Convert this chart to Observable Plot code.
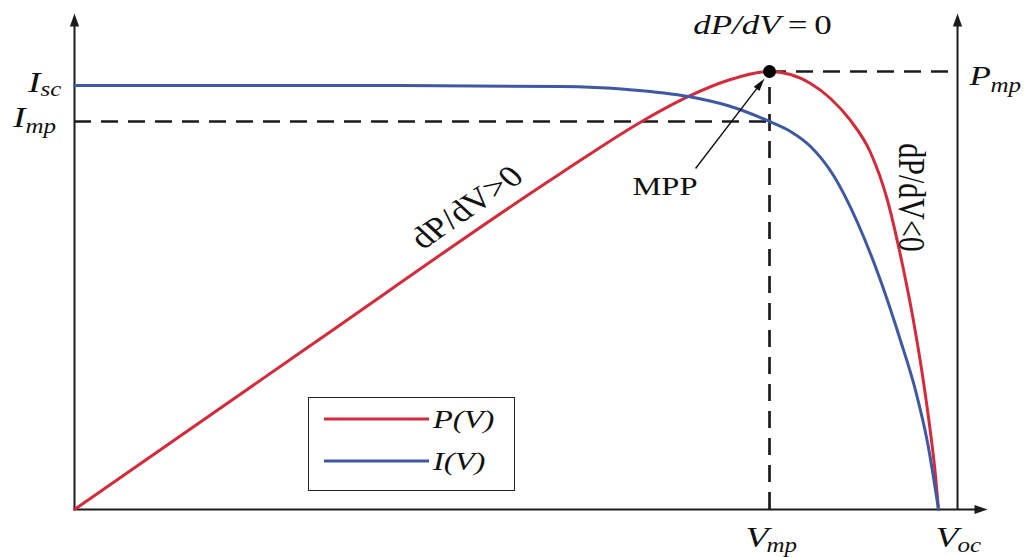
<!DOCTYPE html>
<html>
<head>
<meta charset="utf-8">
<script src="https://cdn.jsdelivr.net/npm/d3@7"></script>
<script src="https://cdn.jsdelivr.net/npm/@observablehq/plot@0.6"></script>
<style>
  body { margin: 0; background: #fff; }
  #chart { position: relative; width: 1027px; height: 557px; }
  #legend {
    position: absolute; left: 308px; top: 397px; width: 207px; height: 94px;
    box-sizing: border-box; border: 1.6px solid #222; background: #fff;
  }
</style>
</head>
<body>
<div id="chart"><div id="legend"></div></div>
<script>
// PV module characteristic: voltage normalised to Voc, current to Isc,
// power drawn on the same vertical scale.
const Voc = 1.0, Vmp = 0.8044;
const Isc = 1.0, Imp = 0.9151, Pmp = 1.0330;
const xAxisEnd = 1.0567, yAxisEnd = 1.1698, pAxisX = 1.0220;

// P(V) curve
const powerV = [0, 0.2731, 0.5625, 0.6586, 0.7106, 0.7558, 0.8044, 0.8287, 0.8519,
                0.8750, 0.8981, 0.9213, 0.9410, 0.9560, 0.9699, 0.9815, 0.9907, 0.9965, 1.0];
const powerP = [0, 0.3868, 0.7925, 0.9175, 0.9741, 1.0118, 1.0330, 1.0259, 1.0047,
                0.9693, 0.9175, 0.8420, 0.7288, 0.5991, 0.4575, 0.3160, 0.1816, 0.0802, 0];

// I(V) curve
const currentV = [0, 0.3773, 0.5625, 0.6400, 0.7106, 0.7558, 0.8044, 0.8287, 0.8519, 0.8785,
                  0.9062, 0.9329, 0.9560, 0.9734, 0.9873, 1.0];
const currentI = [1.0, 1.0, 0.9976, 0.9906, 0.9741, 0.9528, 0.9151, 0.8915, 0.8561, 0.7877,
                  0.6769, 0.5401, 0.3986, 0.2807, 0.1580, 0];

const seriesNames = ["P(V)", "I(V)"];
const seriesColors = ["#d42b3b", "#3f58a6"];

// annotation anchors
const mppArrow = {x1: 0.7188, y1: 0.8042, x2: 0.7986, y2: 1.0165};
const mppLabel = {x: 0.6834, y: 0.7618, text: "MPP"};
const slopeLabels = [
  {x: 0.4537, y: 0.7123, text: "dP/dV>0", rotate: -41},
  {x: 0.9676, y: 0.7358, text: "dP/dV<0", rotate: 90}
];

const W = 1027, H = 557;
const M = {left: 74, right: 40, top: 13, bottom: 48};
const kx = (W - M.left - M.right) / xAxisEnd;
const ky = (H - M.top - M.bottom) / yAxisEnd;
const SX = 1.25; // horizontal stretch of the serif lettering
const serif = "'Liberation Serif', 'Times New Roman', serif";
const ink = "#1b1b1b";

const power = powerV.map((v, i) => ({v, y: powerP[i]}));
const current = currentV.map((v, i) => ({v, y: currentI[i]}));

// filled arrow head whose tip sits on the anchor point; angle clockwise from "up"
function head(angleDeg, len = 13, half = 4.6) {
  const a = angleDeg * Math.PI / 180;
  const ux = Math.sin(a), uy = -Math.cos(a);
  const px = Math.cos(a), py = Math.sin(a);
  const bx = -len * ux, by = -len * uy;
  return {
    draw(ctx) {
      ctx.moveTo(0, 0);
      ctx.lineTo(bx + px * half, by + py * half);
      ctx.lineTo(bx - px * half, by - py * half);
      ctx.closePath();
    }
  };
}
const mppAngle = Math.atan2((mppArrow.x2 - mppArrow.x1) * kx, (mppArrow.y2 - mppArrow.y1) * ky) * 180 / Math.PI;

function symLabel(x, y, main, sub, o) {
  return [
    Plot.text([{x, y, t: main}], {
      x: "x", y: "y", text: "t", textAnchor: o.anchor ?? "end", dx: o.dx, dy: o.dy,
      fontSize: o.size ?? 30, fontStyle: "italic", fontFamily: serif, fill: "#111"
    }),
    Plot.text([{x, y, t: sub}], {
      x: "x", y: "y", text: "t", textAnchor: "start", dx: o.sdx, dy: o.sdy,
      fontSize: o.subSize ?? 20, fontStyle: "italic", fontFamily: serif, fill: "#111"
    })
  ];
}

const dash = {stroke: ink, strokeWidth: 2.7, strokeDasharray: "17,10"};
const axis = {stroke: ink, strokeWidth: 2};

const chart = Plot.plot({
  width: W, height: H,
  marginLeft: M.left, marginRight: M.right, marginTop: M.top, marginBottom: M.bottom,
  x: {domain: [0, xAxisEnd], axis: null},
  y: {domain: [0, yAxisEnd], axis: null},
  marks: [
    // guide lines through the maximum power point
    Plot.ruleY([Imp], {x1: 0, x2: Vmp, ...dash}),
    Plot.ruleX([Vmp], {y1: 0, y2: Pmp, ...dash}),
    Plot.ruleY([Pmp], {x1: Vmp, x2: pAxisX, ...dash}),

    // axes
    Plot.ruleY([0], {x1: 0, x2: xAxisEnd - 8 / kx, ...axis}),
    Plot.ruleX([0], {y1: 0, y2: yAxisEnd - 8 / ky, ...axis}),
    Plot.ruleX([pAxisX], {y1: 0, y2: yAxisEnd - 8 / ky, ...axis}),
    Plot.dot([{x: 0, y: yAxisEnd}, {x: pAxisX, y: yAxisEnd}], {x: "x", y: "y", symbol: head(0), fill: ink, stroke: "none"}),
    Plot.dot([{x: xAxisEnd, y: 0}], {x: "x", y: "y", symbol: head(90), fill: ink, stroke: "none"}),

    // curves
    Plot.line(power, {x: "v", y: "y", stroke: seriesColors[0], strokeWidth: 3, curve: "monotone-x"}),
    Plot.line(current, {x: "v", y: "y", stroke: seriesColors[1], strokeWidth: 3, curve: "monotone-x"}),

    // maximum power point and its pointer
    Plot.dot([{x: Vmp, y: Pmp}], {x: "x", y: "y", r: 6.5, fill: "#000"}),
    Plot.link([mppArrow], {
      x1: "x1", y1: "y1",
      x2: (d) => d.x2 - 9 * Math.sin(mppAngle * Math.PI / 180) / kx,
      y2: (d) => d.y2 - 9 * Math.cos(mppAngle * Math.PI / 180) / ky,
      stroke: "#111", strokeWidth: 1.4
    }),
    Plot.dot([mppArrow], {x: "x2", y: "y2", symbol: head(mppAngle, 13, 3.6), fill: "#111", stroke: "none"}),
    Plot.text([mppLabel], {x: "x", y: "y", text: "text", fontSize: 26, fontFamily: serif, fill: "#111"}),

    // slope annotations
    Plot.text([{x: Vmp, y: Pmp, t: "dP/dV = 0"}], {
      x: "x", y: "y", text: "t", dx: -7, dy: -46, fontSize: 28, fontFamily: serif, fill: "#111"
    }),
    Plot.text(slopeLabels.slice(0, 1), {x: "x", y: "y", text: "text", rotate: slopeLabels[0].rotate, fontSize: 30, fontFamily: serif, fill: "#111"}),
    Plot.text(slopeLabels.slice(1), {x: "x", y: "y", text: "text", rotate: slopeLabels[1].rotate, fontSize: 30, fontFamily: serif, fill: "#111"}),

    // axis value labels
    ...symLabel(0, Isc, "I", "sc", {dx: -34, dy: -3, sdx: -34, sdy: 4}),
    ...symLabel(0, Imp, "I", "mp", {dx: -49, dy: -4, sdx: -49, sdy: 5}),
    ...symLabel(pAxisX, Pmp, "P", "mp", {anchor: "start", dx: 12, dy: 5, sdx: 33, sdy: 14, size: 28}),
    ...symLabel(Vmp, 0, "V", "mp", {dx: -1, dy: 28, sdx: -3, sdy: 36}),
    ...symLabel(Voc, 0, "V", "oc", {dx: 20, dy: 28, sdx: 19, sdy: 36})
  ]
});

// widen the lettering horizontally about each text anchor
chart.querySelectorAll("text").forEach((t) => {
  const tr = t.getAttribute("transform");
  if (tr) t.setAttribute("transform", tr.replace(/^(translate\([^)]*\))/, `$1 scale(${SX},1)`));
  // the maximum-power condition: italic variables, upright "= 0"
  if (t.textContent === "dP/dV = 0") {
    t.textContent = "";
    const sel = d3.select(t);
    sel.append("tspan").attr("font-style", "italic").text("dP/dV");
    sel.append("tspan").text("\u2009=\u20090");
  }
});

const host = document.getElementById("chart");
host.insertBefore(chart, host.firstChild);

// legend box
const lg = d3.select("#legend").append("svg").attr("width", 204).attr("height", 91);
seriesNames.forEach((name, i) => {
  const y = 21 + i * 42;
  lg.append("line").attr("x1", 15).attr("x2", 120).attr("y1", y).attr("y2", y)
    .attr("stroke", seriesColors[i]).attr("stroke-width", 3);
  lg.append("text").attr("transform", `translate(124,${y + 9}) scale(${SX},1)`)
    .attr("font-family", serif).attr("font-style", "italic").attr("font-size", 26)
    .attr("fill", "#111").text(name);
});
</script>
</body>
</html>
